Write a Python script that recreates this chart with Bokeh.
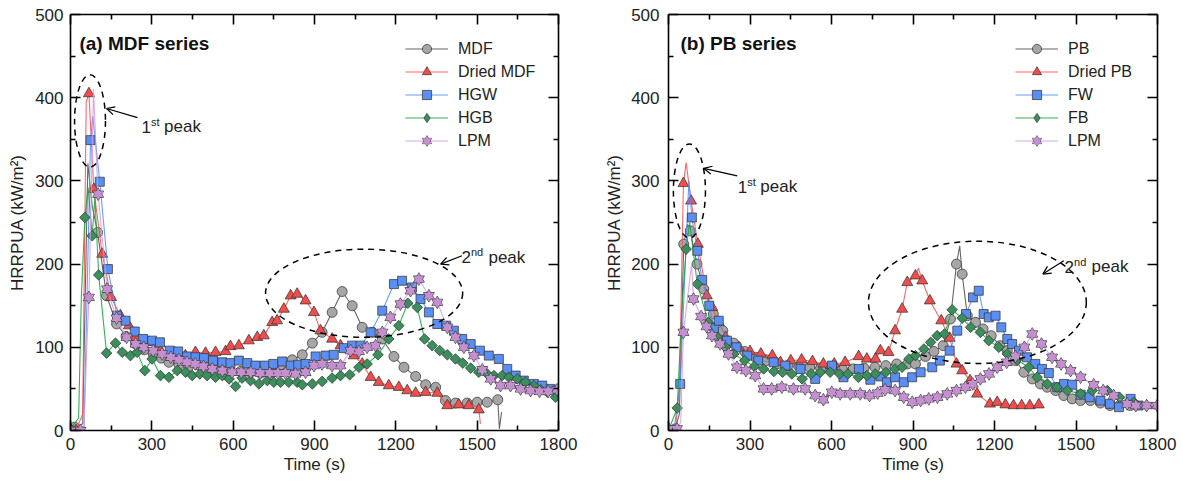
import math
from bokeh.plotting import figure
from bokeh.models import (Range1d, LinearAxis, FixedTicker, Legend, LegendItem,
                          Arrow, OpenHead, Label)
from bokeh.layouts import row
from bokeh.embed import file_html
from bokeh.resources import INLINE

FONT = "Liberation Sans"

# ---------------- (a) MDF series ----------------
mdf_t = [0, 15, 100, 133, 170, 205, 240, 272, 305, 335, 363, 400, 436, 476, 510, 547, 587, 627, 664, 701,
         738, 775, 818, 855, 892, 928, 965, 1002, 1039, 1076, 1113, 1150, 1193, 1230, 1273, 1310, 1347, 1383,
         1420, 1463, 1500, 1537, 1576]
mdf_v = [0, 4, 238, 162, 128, 113, 104, 97, 92, 87, 82, 79, 77, 78, 74, 76, 75, 71, 70, 69,
         69, 79, 85, 91, 105, 118, 142, 167, 150, 124, 118, 110, 89, 76, 65, 55, 52, 36,
         33, 33, 34, 34, 37]
mdf_pk_t = [45, 64, 80, 1582, 1590]
mdf_pk_v = [8, 321, 270, 2, 22]

dmdf_t = [0, 20, 68, 86, 117, 150, 184, 215, 240, 289, 332, 387, 424, 461, 498, 535, 572, 590, 621, 658,
          689, 713, 744, 762, 787, 812, 836, 867, 898, 922, 965, 996, 1045, 1076, 1107, 1137, 1174, 1211,
          1242, 1273, 1310, 1353, 1390, 1432, 1469, 1506]
dmdf_v = [0, 0, 405, 290, 212, 160, 138, 126, 112, 106, 96, 93, 90, 94, 93, 94, 95, 101, 102, 108,
          112, 114, 130, 132, 146, 162, 164, 156, 142, 120, 110, 102, 90, 80, 64, 58, 54, 52,
          48, 45, 46, 45, 30, 31, 30, 25]
dmdf_pk_t = [45, 58, 1512]
dmdf_pk_v = [20, 395, 8]

hgw_t = [74, 108, 138, 172, 203, 237, 268, 301, 330, 366, 397, 430, 461, 492, 526, 560, 590, 621, 652, 682,
         717, 748, 781, 812, 840, 867, 904, 941, 971, 1008, 1039, 1070, 1107, 1150, 1193, 1223, 1260, 1291,
         1322, 1353, 1386, 1414, 1445, 1476, 1510, 1543, 1580, 1611, 1642, 1672, 1709, 1740, 1771, 1795]
hgw_v = [349, 299, 194, 138, 132, 119, 110, 108, 106, 96, 95, 89, 88, 87, 84, 82, 81, 84, 81, 78,
         78, 80, 83, 78, 79, 80, 89, 90, 91, 99, 102, 102, 118, 144, 176, 180, 172, 158,
         142, 128, 126, 120, 110, 104, 96, 90, 86, 74, 66, 60, 56, 54, 50, 48]
hgw_pk_t = [0, 50, 82]
hgw_pk_v = [0, 5, 378]

hgb_t = [0, 53, 80, 104, 133, 166, 191, 221, 246, 274, 301, 332, 363, 394, 424, 449, 477, 504, 535, 560,
         585, 609, 633, 664, 695, 726, 750, 775, 805, 836, 855, 892, 928, 965, 996, 1030, 1064, 1094,
         1134, 1174, 1211, 1244, 1279, 1306, 1334, 1362, 1390, 1420, 1447, 1476, 1506, 1537, 1562, 1592,
         1617, 1648, 1678, 1709, 1734, 1759, 1789]
hgb_v = [2, 256, 234, 187, 93, 105, 94, 90, 94, 72, 86, 66, 64, 72, 70, 66, 68, 66, 64, 66,
         62, 53, 63, 60, 56, 60, 58, 58, 58, 58, 55, 56, 59, 63, 66, 67, 76, 80,
         91, 110, 126, 153, 148, 110, 102, 96, 91, 86, 81, 75, 70, 68, 66, 66,
         64, 62, 58, 54, 49, 46, 40]
hgb_pk_t = [30, 40, 65, 90]
hgb_pk_v = [15, 160, 292, 280]

lpma_t = [0, 37, 68, 102, 135, 170, 207, 240, 270, 305, 338, 370, 400, 430, 460, 490, 523, 560, 596, 630,
          665, 700, 735, 765, 793, 830, 867, 898, 928, 965, 996, 1033, 1064, 1094, 1125, 1150, 1180, 1217,
          1254, 1285, 1322, 1353, 1390, 1420, 1451, 1488, 1519, 1550, 1586, 1623, 1660, 1697, 1730, 1762, 1795]
lpma_v = [0, 0, 160, 284, 170, 135, 112, 104, 100, 96, 92, 88, 85, 82, 80, 77, 74, 72, 70, 70,
          70, 69, 69, 69, 69, 68, 70, 78, 80, 78, 78, 96, 95, 100, 102, 118, 136, 152,
          168, 182, 162, 154, 124, 112, 100, 90, 73, 62, 54, 54, 50, 48, 47, 47, 49]
lpma_pk_t = [50, 60, 85, 95]
lpma_pk_v = [5, 100, 410, 330]

# ---------------- (b) PB series ----------------
pb_t = [0, 25, 56, 80, 105, 130, 165, 200, 240, 280, 320, 360, 400, 440, 480, 520, 560, 600, 640, 680,
        720, 760, 800, 840, 880, 909, 946, 977, 1011, 1038, 1060, 1081, 1100, 1130, 1158, 1188, 1220, 1247,
        1278, 1308, 1339, 1369, 1394, 1425, 1455, 1486, 1517, 1553, 1590, 1625, 1660, 1700]
pb_v = [0, 2, 224, 240, 200, 170, 140, 120, 105, 95, 88, 84, 80, 78, 77, 76, 75, 74, 74, 74,
        75, 76, 78, 80, 80, 80, 89, 95, 102, 134, 200, 188, 138, 130, 122, 114, 102, 96,
        84, 70, 62, 56, 52, 48, 42, 38, 36, 36, 33, 30, 30, 30]
pb_pk_t = [40, 70, 1072, 1760, 1795]
pb_pk_v = [20, 248, 222, 28, 26]

dpb_t = [0, 25, 55, 83, 108, 141, 161, 185, 210, 259, 300, 340, 382, 412, 450, 490, 530, 570, 610, 650,
         700, 730, 762, 780, 810, 834, 860, 879, 909, 934, 962, 1004, 1035, 1060, 1081, 1110, 1136, 1183,
         1210, 1240, 1270, 1300, 1330, 1363]
dpb_v = [0, 0, 297, 276, 224, 162, 148, 130, 112, 100, 95, 92, 90, 82, 84, 85, 83, 80, 80, 82,
         89, 86, 86, 96, 94, 120, 146, 178, 186, 180, 156, 132, 111, 80, 72, 60, 44, 32,
         34, 31, 30, 30, 30, 31]
dpb_pk_t = [40, 65, 920]
dpb_pk_v = [50, 322, 195]

fw_t = [0, 43, 86, 106, 124, 150, 167, 185, 215, 250, 290, 330, 387, 430, 486, 540, 602, 644, 701, 743,
        780, 804, 834, 866, 897, 928, 971, 999, 1035, 1063, 1095, 1121, 1142, 1160, 1179, 1204, 1225, 1247,
        1265, 1290, 1320, 1350, 1375, 1400, 1431, 1456, 1486, 1517, 1550, 1590, 1625, 1658, 1701, 1730]
fw_v = [0, 56, 256, 216, 181, 150, 123, 132, 108, 100, 90, 84, 82, 78, 74, 62, 78, 64, 74, 61,
        65, 58, 64, 58, 64, 70, 76, 84, 96, 120, 140, 160, 168, 140, 136, 138, 124, 110,
        104, 96, 88, 80, 74, 69, 52, 56, 55, 43, 40, 36, 32, 28, 38, 30]
fw_pk_t = [20, 75]
fw_pk_v = [0, 300]

fb_t = [0, 32, 65, 106, 147, 180, 210, 240, 280, 316, 350, 388, 420, 454, 492, 525, 559, 595, 630, 660,
        699, 730, 761, 800, 834, 860, 885, 909, 940, 965, 989, 1016, 1044, 1081, 1112, 1148, 1179, 1216,
        1247, 1282, 1326, 1357, 1394, 1430, 1468, 1517, 1560, 1615, 1660, 1713, 1760]
fb_v = [0, 27, 218, 176, 130, 112, 100, 92, 84, 77, 74, 71, 70, 68, 62, 68, 70, 70, 68, 68,
        64, 66, 68, 70, 74, 76, 86, 90, 98, 106, 114, 116, 145, 135, 124, 118, 108, 100,
        92, 85, 76, 64, 56, 52, 48, 44, 48, 48, 40, 34, 30]
fb_pk_t = [50, 78, 1800]
fb_pk_v = [150, 250, 28]

lpmb_t = [0, 31, 55, 92, 120, 140, 160, 190, 221, 252, 285, 319, 350, 380, 417, 460, 503, 540, 570, 601,
          632, 669, 706, 740, 770, 797, 834, 866, 897, 928, 958, 990, 1026, 1060, 1093, 1120, 1148, 1180,
          1210, 1245, 1277, 1310, 1339, 1373, 1412, 1445, 1480, 1517, 1565, 1600, 1639, 1688, 1720, 1760, 1799]
lpmb_v = [2, 2, 118, 158, 137, 125, 114, 104, 92, 76, 72, 66, 50, 50, 52, 50, 50, 42, 37, 46,
          44, 44, 44, 42, 45, 49, 48, 40, 34, 36, 38, 40, 44, 48, 52, 56, 62, 68,
          76, 82, 89, 100, 116, 104, 88, 80, 72, 64, 55, 48, 42, 32, 30, 30, 30]
lpmb_pk_t = [45, 85]
lpmb_pk_v = [10, 200]

x_ticks = [0, 300, 600, 900, 1200, 1500, 1800]
x_minor = [150, 450, 750, 1050, 1350, 1650]
y_ticks = [0, 100, 200, 300, 400, 500]
y_minor = [50, 150, 250, 350, 450]

EDGE = "#383838"
TXT = "#222222"
STYLES = {
    "circle":   dict(fill="#a6a6a6", line="#4a4a4a", size=10),
    "triangle": dict(fill="#f24c4c", line="#ff4a4a", size=11),
    "square":   dict(fill="#5a8ef2", line="#4d8cff", size=9),
    "diamond":  dict(fill="#3a8f5c", line="#13a23a", size=7.5),
    "hexagram": dict(fill="#c490d0", line="#d09ade", size=11),
}


def merged(t, v, et, ev):
    pts = sorted(list(zip(t, v)) + list(zip(et, ev)))
    return [a for a, _ in pts], [b for _, b in pts]


def style_axis(ax, ticks, minor, show_labels):
    ax.ticker = FixedTicker(ticks=ticks, minor_ticks=minor)
    ax.major_tick_in = 10
    ax.major_tick_out = 0
    ax.minor_tick_in = 5
    ax.minor_tick_out = 0
    ax.axis_line_width = 1.6
    ax.major_tick_line_width = 1.6
    ax.minor_tick_line_width = 1.6
    ax.axis_line_color = "black"
    ax.major_tick_line_color = "black"
    ax.minor_tick_line_color = "black"
    ax.major_label_text_font = FONT
    ax.major_label_text_color = TXT
    if show_labels:
        ax.major_label_text_font_size = "17px"
    else:
        ax.major_label_overrides = {t: "" for t in ticks}
        ax.major_label_text_font_size = "1px"
        ax.major_label_standoff = 0


def sup_label(p, x, y, big, small, sup_dx, peak_dx):
    p.add_layout(Label(x=x, y=y, text=big, text_font=FONT, text_font_size="17px",
                       text_baseline="alphabetic", text_color=TXT))
    p.add_layout(Label(x=x, y=y, x_offset=sup_dx, y_offset=5, text=small, text_font=FONT,
                       text_font_size="11px", text_baseline="alphabetic", text_color=TXT))
    p.add_layout(Label(x=x, y=y, x_offset=peak_dx, text="peak", text_font=FONT, text_font_size="17px",
                       text_baseline="alphabetic", text_color=TXT))


def make_panel(series, title, width, bl, br, legend_x, ell1, ell2, arr1, arr2, txt1, txt2,
               tick_sd, lab_sd):
    p = figure(width=width, height=482, x_range=Range1d(0, 1800), y_range=Range1d(0, 500),
               output_backend="svg", toolbar_location=None,
               min_border_left=bl, min_border_right=br, min_border_top=14, min_border_bottom=52)
    p.xgrid.visible = False
    p.ygrid.visible = False
    p.outline_line_color = None
    p.background_fill_color = "white"
    p.border_fill_color = "white"

    style_axis(p.xaxis[0], x_ticks, x_minor, True)
    style_axis(p.yaxis[0], y_ticks, y_minor, True)
    p.xaxis[0].major_label_standoff = 7
    p.yaxis[0].major_label_standoff = tick_sd
    p.xaxis[0].axis_label = "Time (s)"
    p.yaxis[0].axis_label = "HRRPUA (kW/m²)"
    for ax in (p.xaxis[0], p.yaxis[0]):
        ax.axis_label_text_font = FONT
        ax.axis_label_text_font_size = "17px"
        ax.axis_label_text_font_style = "normal"
        ax.axis_label_text_color = TXT
    p.xaxis[0].axis_label_standoff = 2
    p.yaxis[0].axis_label_standoff = lab_sd

    top = LinearAxis()
    style_axis(top, x_ticks, x_minor, False)
    p.add_layout(top, "above")
    right = LinearAxis()
    style_axis(right, y_ticks, y_minor, False)
    p.add_layout(right, "right")

    items = []
    for name, t, v, et, ev, mk in series:
        st = STYLES[mk]
        lt, lv = merged(t, v, et, ev)
        rl = p.line(lt, lv, line_color=st["line"], line_width=1.1, line_alpha=0.85)
        rs = [rl]
        if mk == "hexagram":
            for m in ("triangle", "inverted_triangle"):
                rs.append(p.scatter(t, v, marker=m, size=st["size"], fill_color=st["fill"],
                                    line_color=EDGE, line_width=0.9, line_alpha=0.85))
            for m in ("triangle", "inverted_triangle"):
                rs.append(p.scatter(t, v, marker=m, size=st["size"] - 1.2, fill_color=st["fill"],
                                    line_color=None))
        elif mk == "diamond":
            p.scatter(t, v, marker="square", angle=math.pi / 4, size=st["size"],
                      fill_color=st["fill"], line_color=EDGE, line_width=0.9, line_alpha=0.85)
            # legend-only glyph (no drawable point in the plot)
            rs.append(p.scatter([float("nan")], [float("nan")], marker="diamond", size=10,
                                fill_color=st["fill"], line_color=EDGE, line_width=0.9,
                                line_alpha=0.85))
        else:
            rs.append(p.scatter(t, v, marker=mk, size=st["size"], fill_color=st["fill"],
                                line_color=EDGE, line_width=0.9, line_alpha=0.85))
        items.append(LegendItem(label=name, renderers=rs))

    legend = Legend(items=items, location=(legend_x, 278), border_line_color=None,
                    background_fill_alpha=0, padding=0, margin=0, spacing=0,
                    glyph_width=43, glyph_height=23, label_height=23, label_standoff=10,
                    label_text_font=FONT, label_text_font_size="16px", label_text_color=TXT)
    p.add_layout(legend)

    for (cx, cy, w, h) in (ell1, ell2):
        p.ellipse(x=[cx], y=[cy], width=[w], height=[h], fill_color=None, line_color="black",
                  line_width=1.5, line_dash="6 5")
    for (xs, ys, xe, ye) in (arr1, arr2):
        p.add_layout(Arrow(end=OpenHead(size=8, line_width=1.2, line_color="black"),
                           x_start=xs, y_start=ys, x_end=xe, y_end=ye,
                           line_width=1.2, line_color="black"))
    sup_label(p, txt1[0], txt1[1], "1", "st", 9.5, 22.5)
    sup_label(p, txt2[0], txt2[1], "2", "nd", 9.5, 27)

    p.add_layout(Label(x=title[1], y=title[2], text=title[0], text_font=FONT, text_font_size="19px",
                       text_font_style="bold", text_baseline="alphabetic", text_color="#111111"))
    return p


series_a = [
    ("MDF", mdf_t, mdf_v, mdf_pk_t, mdf_pk_v, "circle"),
    ("Dried MDF", dmdf_t, dmdf_v, dmdf_pk_t, dmdf_pk_v, "triangle"),
    ("HGW", hgw_t, hgw_v, hgw_pk_t, hgw_pk_v, "square"),
    ("HGB", hgb_t, hgb_v, hgb_pk_t, hgb_pk_v, "diamond"),
    ("LPM", lpma_t, lpma_v, lpma_pk_t, lpma_pk_v, "hexagram"),
]
series_b = [
    ("PB", pb_t, pb_v, pb_pk_t, pb_pk_v, "circle"),
    ("Dried PB", dpb_t, dpb_v, dpb_pk_t, dpb_pk_v, "triangle"),
    ("FW", fw_t, fw_v, fw_pk_t, fw_pk_v, "square"),
    ("FB", fb_t, fb_v, fb_pk_t, fb_pk_v, "diamond"),
    ("LPM", lpmb_t, lpmb_v, lpmb_pk_t, lpmb_pk_v, "hexagram"),
]

pa = make_panel(series_a, ("(a) MDF series", 33, 465), 590, 70, 32, 335,
                (72, 372, 114, 111), (1083, 165, 727, 106),
                (247, 376, 133, 387), (1444, 210, 1365, 200),
                (262, 365), (1442, 208), 7, 5)
pb = make_panel(series_b, ("(b) PB series", 44, 465), 593, 78, 26, 347,
                (77, 288, 118, 113), (1137, 154, 802, 147),
                (253, 306, 130, 315), (1455, 204, 1378, 188),
                (255, 293), (1458, 197), 9, 4)

layout = row(pa, pb)
open("out.html", "w").write(file_html(layout, INLINE))
